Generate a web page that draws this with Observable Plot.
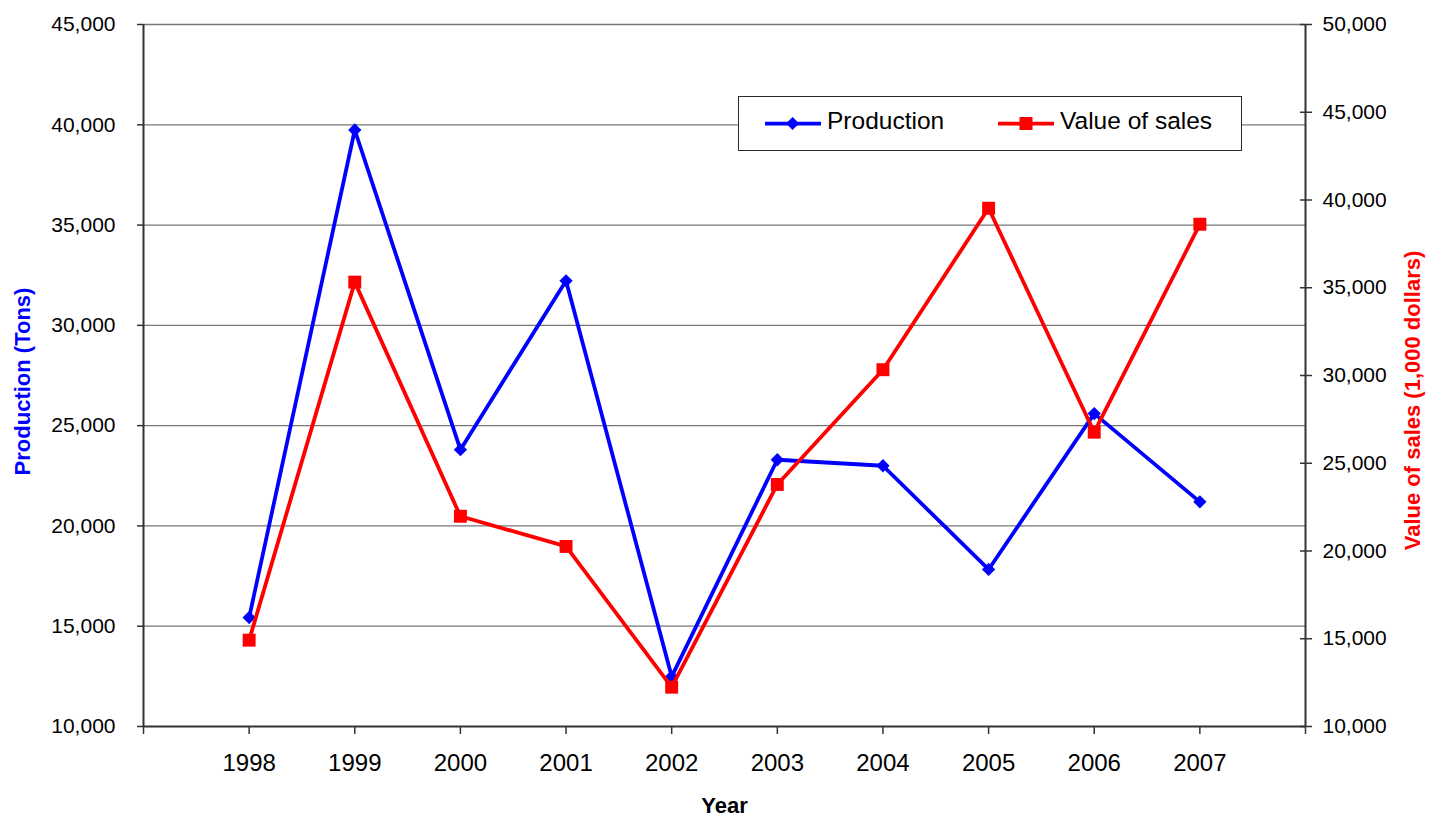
<!DOCTYPE html>
<html>
<head>
<meta charset="utf-8">
<script src="https://cdn.jsdelivr.net/npm/d3@7"></script>
<script src="https://cdn.jsdelivr.net/npm/@observablehq/plot@0.6"></script>
<style>
  body { margin: 0; background: #fff; font-family: "Liberation Sans", Arial, sans-serif; }
  #wrap { position: relative; width: 1435px; height: 817px; overflow: hidden; }
  #legend { position: absolute; left: 738px; top: 96px; width: 504px; height: 55px; box-sizing: border-box;
            border: 1.5px solid #2a2a2a; background: #fff; font-size: 24.5px; color: #000; }
  .item { position: absolute; top: -3px; height: 100%; display: flex; align-items: center; }
  .item svg { display: block; margin-right: 6px; margin-top: 6px; }
</style>
</head>
<body>
<div id="wrap">
  <div id="chart"></div>
  <div id="legend"></div>
</div>
<script>
// ---- data ----
const years = [1998, 1999, 2000, 2001, 2002, 2003, 2004, 2005, 2006, 2007];
const production = [15430, 39740, 23800, 32220, 12490, 23300, 23000, 17830, 25600, 21200];
const salesValue = [14920, 35320, 21980, 20260, 12240, 23790, 30330, 39530, 26770, 38620];
const leftTicks = [10000, 15000, 20000, 25000, 30000, 35000, 40000, 45000];
const rightTicks = [10000, 15000, 20000, 25000, 30000, 35000, 40000, 45000, 50000];
const seriesNames = ["Production", "Value of sales"];
const seriesColors = ["#0000ff", "#ff0000"];
const xTitle = "Year";
const yLeftTitle = "Production (Tons)";
const yRightTitle = "Value of sales (1,000 dollars)";

// ---- derived ----
const rows = years.map((year, i) => ({year, production: production[i], sales: salesValue[i]}));
const x0 = years[0] - 1, x1 = years[years.length - 1] + 1;
const xTicks = d3.range(x0, x1 + 1);
const toLeft = d3.scaleLinear([rightTicks[0], rightTicks[rightTicks.length - 1]],
                              [leftTicks[0], leftTicks[leftTicks.length - 1]]);
const fmt = d3.format(",");
const font = '"Liberation Sans", Arial, sans-serif';

const chart = Plot.plot({
  width: 1435,
  height: 817,
  marginLeft: 143,
  marginRight: 130,
  marginTop: 24,
  marginBottom: 91,
  style: {fontFamily: font, background: "white", color: "black", overflow: "visible"},
  x: {domain: [x0, x1]},
  y: {domain: [leftTicks[0], leftTicks[leftTicks.length - 1]]},
  marks: [
    Plot.ruleY(leftTicks.slice(1), {stroke: "#777", strokeWidth: 1.3}),
    Plot.ruleX([x0, x1], {stroke: "#333", strokeWidth: 2}),
    Plot.ruleY([leftTicks[0]], {stroke: "#333", strokeWidth: 2}),
    Plot.axisX({ticks: xTicks, tickFormat: d => years.includes(d) ? String(d) : "",
                tickSize: 8, tickPadding: 19, fontSize: 24, stroke: "#333", strokeWidth: 1.5, label: null}),
    Plot.axisY({ticks: leftTicks, anchor: "left", tickSize: 6, tickPadding: 22, tickFormat: fmt,
                fontSize: 21, stroke: "#333", strokeWidth: 1.5, label: null}),
    Plot.axisY(rightTicks.map(toLeft), {anchor: "right", tickSize: 12, dx: -6, tickPadding: 11,
                tickFormat: d => fmt(Math.round(toLeft.invert(d))),
                fontSize: 21, stroke: "#333", strokeWidth: 1.5, label: null}),
    Plot.line(rows, {x: "year", y: "production", stroke: seriesColors[0], strokeWidth: 3.8}),
    Plot.dot(rows, {x: "year", y: "production", symbol: "square", rotate: 45, r: 5.3, fill: seriesColors[0]}),
    Plot.line(rows, {x: "year", y: d => toLeft(d.sales), stroke: seriesColors[1], strokeWidth: 3.8}),
    Plot.dot(rows, {x: "year", y: d => toLeft(d.sales), symbol: "square", r: 7.3, fill: seriesColors[1]}),
    Plot.text([xTitle], {text: d => d, frameAnchor: "bottom", dy: 79, lineAnchor: "middle", textAnchor: "middle",
                         fontWeight: "bold", fontSize: 22, fill: "black"}),
    Plot.text([yLeftTitle], {text: d => d, frameAnchor: "left", dx: -121, dy: 6, rotate: -90, textAnchor: "middle",
                             lineAnchor: "middle", fontWeight: "bold", fontSize: 22, fill: seriesColors[0]}),
    Plot.text([yRightTitle], {text: d => d, frameAnchor: "right", dx: 107, dy: 25, rotate: -90, textAnchor: "middle",
                              lineAnchor: "middle", fontWeight: "bold", fontSize: 22, fill: seriesColors[1]})
  ]
});
document.getElementById("chart").appendChild(chart);

// ---- legend ----
const legend = document.getElementById("legend");
const itemLeft = [26, 259];
seriesNames.forEach((name, i) => {
  const item = document.createElement("div");
  item.className = "item";
  item.style.left = itemLeft[i] + "px";
  const c = seriesColors[i];
  const marker = i === 0
    ? `<rect x="23" y="5" width="9.2" height="9.2" fill="${c}" transform="rotate(45 27.6 9.6)"/>`
    : `<rect x="21.5" y="3" width="13" height="13" fill="${c}"/>`;
  item.innerHTML = `<svg width="56" height="20" viewBox="0 0 56 20"><line x1="0" x2="56" y1="9.6" y2="9.6" stroke="${c}" stroke-width="3.8"/>${marker}</svg><span>${name}</span>`;
  legend.appendChild(item);
});
</script>
</body>
</html>
